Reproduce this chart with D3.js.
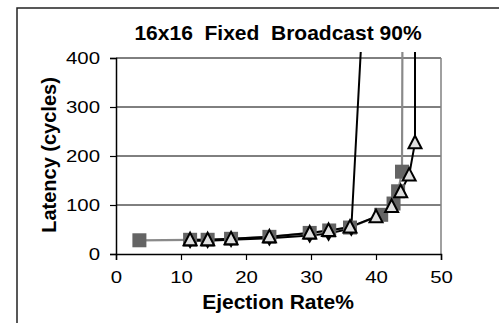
<!doctype html>
<meta charset="utf-8">
<style>
    body { margin: 0; background: #fff; }
    text { font-family: Arial, "Liberation Sans", sans-serif; fill: #000; }
</style>
<body>
<script src="https://d3js.org/d3.v7.min.js"></script>
<script>
    // gray squares
    const rateSquare = [3.6, 11.4, 14.1, 17.7, 23.6, 29.8, 32.8, 36.0, 40.8, 42.7, 43.4, 44.0, 44.2];
    const latSquare = [28, 29, 29, 31, 35, 43, 48, 54, 80, 103, 128, 168, 1000];
    // black diamonds (saturates early)
    const rateDiamond = [11.4, 14.1, 17.7, 23.6, 29.8, 32.7, 36.2, 38.2];
    const latDiamond = [27, 27, 29, 32, 38, 42, 52, 548];
    // white triangles
    const rateTri = [11.4, 14.1, 17.7, 23.6, 29.8, 32.7, 36.0, 40.0, 42.4, 43.8, 45.1, 46.0, 46.0];
    const latTri = [29, 29, 31, 35, 43, 48, 55, 76, 97, 127, 161, 227, 1000];

    const xTicks = [0, 10, 20, 30, 40, 50];
    const yTicks = [0, 100, 200, 300, 400];
    const title = '16x16  Fixed  Broadcast 90%';

    const W = 499, H = 323;
    const plot = {left: 116, right: 441, top: 58, bottom: 254};
    const stretch = 1.2; // tick labels look horizontally stretched

    const x = d3.scaleLinear().domain([0, 50]).range([plot.left, plot.right]);
    const y = d3.scaleLinear().domain([0, 400]).range([plot.bottom, plot.top]);

    const svg = d3.select('body').append('svg')
        .attr('width', W).attr('height', H);

    // outer chart frame
    svg.append('rect')
        .attr('x', 17).attr('y', 8).attr('width', 500).attr('height', 330)
        .attr('fill', 'none').attr('stroke', '#222').attr('stroke-width', 1.5);

    svg.append('defs').append('clipPath').attr('id', 'clip')
        .append('rect').attr('x', plot.left).attr('y', 52)
        .attr('width', plot.right - plot.left + 20).attr('height', plot.bottom - 52);

    // gridlines
    svg.append('g').selectAll('line').data(yTicks.filter(d => d > 0 && d < 400)).join('line')
        .attr('x1', plot.left).attr('x2', plot.right)
        .attr('y1', d => y(d)).attr('y2', d => y(d))
        .attr('stroke', '#000').attr('stroke-width', 1);

    // plot border top/right
    svg.append('line').attr('x1', plot.left).attr('x2', plot.right)
        .attr('y1', plot.top).attr('y2', plot.top).attr('stroke', '#000');
    svg.append('line').attr('x1', plot.right).attr('x2', plot.right)
        .attr('y1', plot.top).attr('y2', plot.bottom).attr('stroke', '#808080').attr('stroke-width', 1.5);

    // axes
    const yAxis = svg.append('g').attr('transform', `translate(${plot.left},0)`)
        .call(d3.axisLeft(y).tickValues(yTicks).tickSize(6).tickPadding(10));
    const xAxis = svg.append('g').attr('transform', `translate(0,${plot.bottom})`)
        .call(d3.axisBottom(x).tickValues(xTicks).tickSize(6).tickPadding(11));
    [xAxis, yAxis].forEach(g => {
        g.select('.domain').attr('stroke', '#000').attr('stroke-width', 1.5);
        g.selectAll('.tick line').attr('stroke', '#000').attr('stroke-width', 1.2);
        g.selectAll('.tick text').attr('fill', '#000')
            .style('font-family', 'Arial, "Liberation Sans", sans-serif').style('font-size', '17px')
            .attr('transform', `scale(${stretch},1)`);
    });
    yAxis.selectAll('.tick text').attr('x', -16 / stretch);

    // titles
    svg.append('text').attr('x', 278).attr('y', 40).attr('text-anchor', 'middle')
        .style('font-size', '21px').style('font-weight', 'bold').style('white-space', 'pre')
        .text(title);
    svg.append('text').attr('x', 278).attr('y', 309).attr('text-anchor', 'middle')
        .style('font-size', '21px').style('font-weight', 'bold').text('Ejection Rate%');
    svg.append('text').attr('transform', 'translate(56,155) rotate(-90)').attr('text-anchor', 'middle')
        .style('font-size', '20px').style('font-weight', 'bold').text('Latency (cycles)');

    const line = d3.line().x(d => x(d[0])).y(d => y(d[1]));
    const sq = d3.zip(rateSquare, latSquare);
    const di = d3.zip(rateDiamond, latDiamond);
    const tr = d3.zip(rateTri, latTri);
    const inside = d => d[1] <= 400;

    const lines = svg.append('g').attr('clip-path', 'url(#clip)');
    lines.append('path').datum(sq).attr('d', line)
        .attr('fill', 'none').attr('stroke', '#8a8a8a').attr('stroke-width', 2.2);
    lines.append('path').datum(di).attr('d', line)
        .attr('fill', 'none').attr('stroke', '#000').attr('stroke-width', 2);
    lines.append('path').datum(tr).attr('d', line)
        .attr('fill', 'none').attr('stroke', '#000').attr('stroke-width', 2);

    // markers
    svg.append('g').selectAll('rect').data(sq.filter(inside)).join('rect')
        .attr('x', d => x(d[0]) - 7).attr('y', d => y(d[1]) - 7)
        .attr('width', 14).attr('height', 14).attr('fill', '#646464');
    svg.append('g').selectAll('path').data(di.filter(inside)).join('path')
        .attr('d', d3.symbol(d3.symbolDiamond, 60))
        .attr('transform', d => `translate(${x(d[0])},${y(d[1]) + 1})`)
        .attr('fill', '#000');
    svg.append('g').selectAll('path').data(tr.filter(inside)).join('path')
        .attr('d', 'M0,-7L6.5,5.5L-6.5,5.5Z')
        .attr('transform', d => `translate(${x(d[0])},${y(d[1])})`)
        .attr('fill', '#e0e0e0').attr('stroke', '#000').attr('stroke-width', 2)
        .attr('stroke-linejoin', 'miter');
</script>
